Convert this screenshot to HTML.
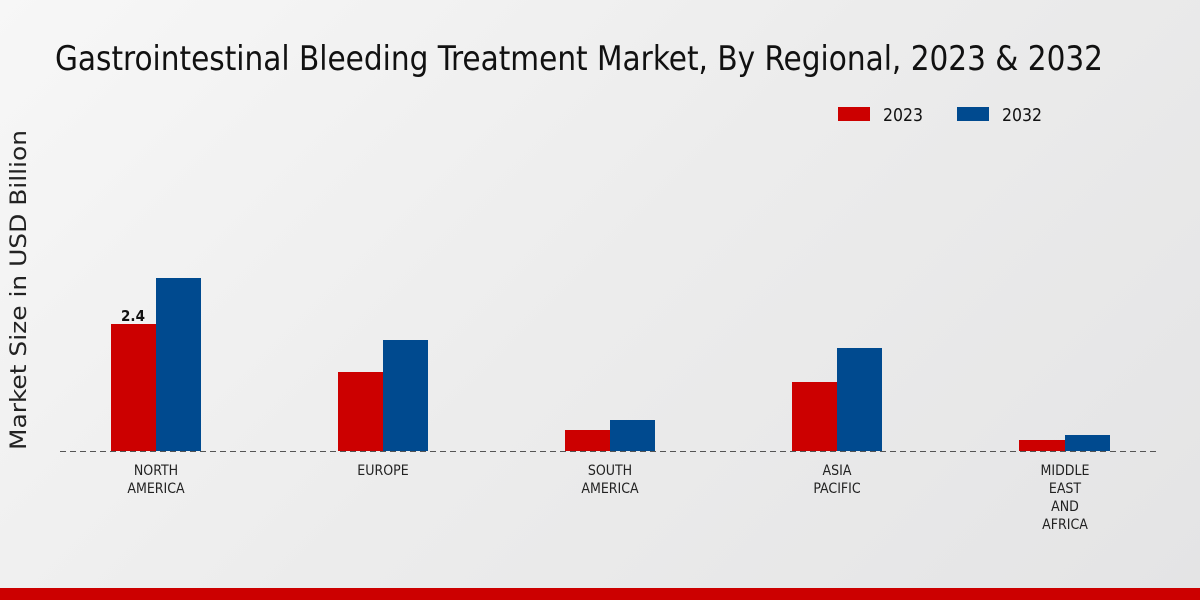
<!DOCTYPE html>
<html><head><meta charset="utf-8"><style>
html,body{margin:0;padding:0;width:1200px;height:600px;overflow:hidden}
body{background:linear-gradient(135deg,#f7f7f7 0%,#ececec 50%,#e4e4e5 100%)}
</style></head><body>
<svg width="1200" height="600" xmlns="http://www.w3.org/2000/svg" style="position:absolute;left:0;top:0">
<g font-family="'DejaVu Sans Condensed','Liberation Sans',sans-serif">
<text x="55" y="70" font-size="34" fill="#111" textLength="1048" lengthAdjust="spacingAndGlyphs">Gastrointestinal Bleeding Treatment Market, By Regional, 2023 &amp; 2032</text>
<rect x="838" y="107" width="32" height="14" fill="#cc0000"/>
<text x="883" y="121" font-size="18" fill="#111" textLength="40" lengthAdjust="spacingAndGlyphs">2023</text>
<rect x="957" y="107" width="32" height="14" fill="#004a8f"/>
<text x="1002" y="121" font-size="18" fill="#111" textLength="40" lengthAdjust="spacingAndGlyphs">2032</text>
<text transform="translate(26,450) rotate(-90)" font-size="22" fill="#222" textLength="320" lengthAdjust="spacingAndGlyphs">Market Size in USD Billion</text>
<rect x="111" y="324" width="45" height="127" fill="#cc0000"/>
<rect x="156" y="278" width="45" height="173" fill="#004a8f"/>
<rect x="338" y="372" width="45" height="79" fill="#cc0000"/>
<rect x="383" y="340" width="45" height="111" fill="#004a8f"/>
<rect x="565" y="430" width="45" height="21" fill="#cc0000"/>
<rect x="610" y="420" width="45" height="31" fill="#004a8f"/>
<rect x="792" y="382" width="45" height="69" fill="#cc0000"/>
<rect x="837" y="348" width="45" height="103" fill="#004a8f"/>
<rect x="1019" y="440" width="46" height="11" fill="#cc0000"/>
<rect x="1065" y="435" width="45" height="16" fill="#004a8f"/>
<line x1="60" y1="451.5" x2="1160" y2="451.5" stroke="#555" stroke-dasharray="6,4" stroke-width="1"/>
<text x="133" y="321" font-size="15" font-weight="bold" fill="#111" text-anchor="middle">2.4</text>
<g font-size="14" fill="#222" text-anchor="middle">
<text x="156" y="475">NORTH</text><text x="156" y="493">AMERICA</text>
<text x="383" y="475">EUROPE</text>
<text x="610" y="475">SOUTH</text><text x="610" y="493">AMERICA</text>
<text x="837" y="475">ASIA</text><text x="837" y="493">PACIFIC</text>
<text x="1065" y="475">MIDDLE</text><text x="1065" y="493">EAST</text><text x="1065" y="511">AND</text><text x="1065" y="529">AFRICA</text>
</g>
</g>
<rect x="0" y="588" width="1200" height="12" fill="#cc0000"/>
</svg>
</body></html>
